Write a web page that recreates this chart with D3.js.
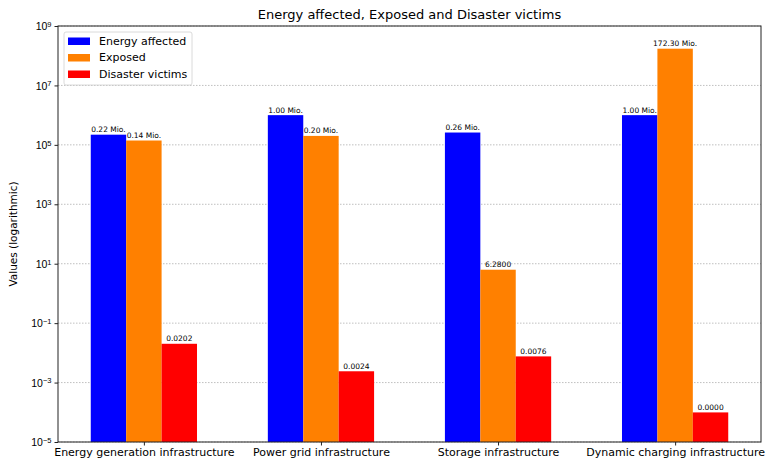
<!DOCTYPE html>
<html>
<head>
<meta charset="utf-8">
<script src="https://cdn.jsdelivr.net/npm/d3@7/dist/d3.min.js"></script>
<style>
  html, body { margin: 0; padding: 0; background: #fff; }
  svg { display: block; font-family: "DejaVu Sans", sans-serif; }
</style>
</head>
<body>
<svg id="chart" width="768" height="464"></svg>
<script>
// Infrastructure categories on the x axis
const categories = [
  "Energy generation infrastructure",
  "Power grid infrastructure",
  "Storage infrastructure",
  "Dynamic charging infrastructure"
];

// One array per series
const energyAffected = [220000, 1000000, 260000, 1000000];
const exposed = [140000, 200000, 6.28, 172300000];
const disasterVictims = [0.0202, 0.0024, 0.0076, 0.000099];

const seriesNames = ["Energy affected", "Exposed", "Disaster victims"];
const seriesColors = ["#0000ff", "#ff8000", "#ff0000"];

// Major ticks on the log axis (every second power of ten)
const yTickExponents = [-5, -3, -1, 1, 3, 5, 7, 9];

const series = [energyAffected, exposed, disasterVictims];

const svg = d3.select("#chart");
const margin = { left: 58, right: 7, top: 26, bottom: 22 };
const W = 768, H = 464;
const x0 = margin.left, x1 = W - margin.right;
const y0 = H - margin.bottom, y1 = margin.top;

const x = d3.scaleLinear().domain([-0.485, categories.length - 1 + 0.485]).range([x0, x1]);
const y = d3.scaleLog().domain([1e-5, 1e9]).range([y0, y1]);
const barW = 0.2;

// Horizontal grid
svg.append("g")
  .selectAll("line")
  .data(yTickExponents)
  .join("line")
  .attr("x1", x0).attr("x2", x1)
  .attr("y1", d => y(Math.pow(10, d))).attr("y2", d => y(Math.pow(10, d)))
  .attr("stroke", "#b0b0b0")
  .attr("stroke-width", 0.8)
  .attr("stroke-dasharray", "1.5,1.5");

// Label text: millions above 1000, otherwise four decimals (truncated)
function labelText(v) {
  if (v >= 1000) return (v / 1e6).toFixed(2) + " Mio.";
  const t = Math.floor(v * 1e4 + 1e-9) / 1e4;
  return t.toFixed(4);
}

const bars = svg.append("g");
const labels = svg.append("g");
series.forEach((vals, si) => {
  const offset = (si - 1) * barW;
  bars.selectAll(null)
    .data(vals)
    .join("rect")
    .attr("x", (d, i) => x(i + offset - barW / 2))
    .attr("width", (d, i) => x(i + offset + barW / 2) - x(i + offset - barW / 2))
    .attr("y", d => y(d))
    .attr("height", d => y(1e-5) - y(d))
    .attr("fill", seriesColors[si]);
  labels.selectAll(null)
    .data(vals)
    .join("text")
    .attr("x", (d, i) => x(i + offset))
    .attr("y", d => y(d) - 2.5)
    .attr("text-anchor", "middle")
    .attr("font-size", 7.5)
    .attr("fill", "#000")
    .text(d => labelText(d));
});

// Frame
svg.append("rect")
  .attr("x", x0).attr("y", y1)
  .attr("width", x1 - x0).attr("height", y0 - y1)
  .attr("fill", "none")
  .attr("stroke", "#222")
  .attr("stroke-width", 1);

// Y axis with power-of-ten labels
const yAxis = d3.axisLeft(y)
  .tickValues(yTickExponents.map(e => Math.pow(10, e)))
  .tickSize(3.5)
  .tickPadding(3)
  .tickFormat(() => "");
const gy = svg.append("g").attr("transform", `translate(${x0},0)`).call(yAxis);
gy.select(".domain").remove();
gy.selectAll(".tick line").attr("stroke", "#222");
gy.selectAll(".tick text").remove();
gy.selectAll(".tick").each(function (d) {
  const e = Math.round(Math.log10(d));
  const t = d3.select(this).append("text")
    .attr("x", -6.5).attr("dy", "0.35em")
    .attr("text-anchor", "end")
    .attr("font-size", 10.5)
    .attr("fill", "#000");
  t.append("tspan").text("10");
  t.append("tspan").attr("dy", "-0.45em").attr("font-size", 7.5)
    .text(e < 0 ? "\u2212" + Math.abs(e) : String(e));
});

// X axis
const xAxis = d3.axisBottom(x)
  .tickValues(d3.range(categories.length))
  .tickSize(3.5)
  .tickPadding(3)
  .tickFormat(i => categories[i]);
const gx = svg.append("g").attr("transform", `translate(0,${y0})`).call(xAxis);
gx.select(".domain").remove();
gx.selectAll(".tick line").attr("stroke", "#222");
gx.selectAll(".tick text")
  .attr("font-size", 11)
  .attr("fill", "#000")
  .attr("font-family", "DejaVu Sans, sans-serif");

// Title and axis label
svg.append("text")
  .attr("x", (x0 + x1) / 2).attr("y", 19)
  .attr("text-anchor", "middle")
  .attr("font-size", 13)
  .attr("fill", "#000")
  .text("Energy affected, Exposed and Disaster victims");

svg.append("text")
  .attr("transform", `translate(17,${(y0 + y1) / 2}) rotate(-90)`)
  .attr("text-anchor", "middle")
  .attr("font-size", 10.5)
  .attr("fill", "#000")
  .text("Values (logarithmic)");

// Legend
const lg = svg.append("g").attr("transform", "translate(64,32)");
lg.append("rect")
  .attr("x", 0).attr("y", 0).attr("width", 128).attr("height", 53)
  .attr("rx", 2).attr("fill", "#fff").attr("fill-opacity", 0.8)
  .attr("stroke", "#d0d0d0").attr("stroke-width", 0.8);
seriesNames.forEach((name, i) => {
  const yy = 9 + i * 16.5;
  lg.append("rect")
    .attr("x", 4).attr("y", yy - 3.5).attr("width", 22).attr("height", 7.5)
    .attr("fill", seriesColors[i]);
  lg.append("text")
    .attr("x", 35).attr("y", yy).attr("dy", "0.35em")
    .attr("font-size", 11).attr("fill", "#000")
    .text(name);
});
</script>
</body>
</html>
